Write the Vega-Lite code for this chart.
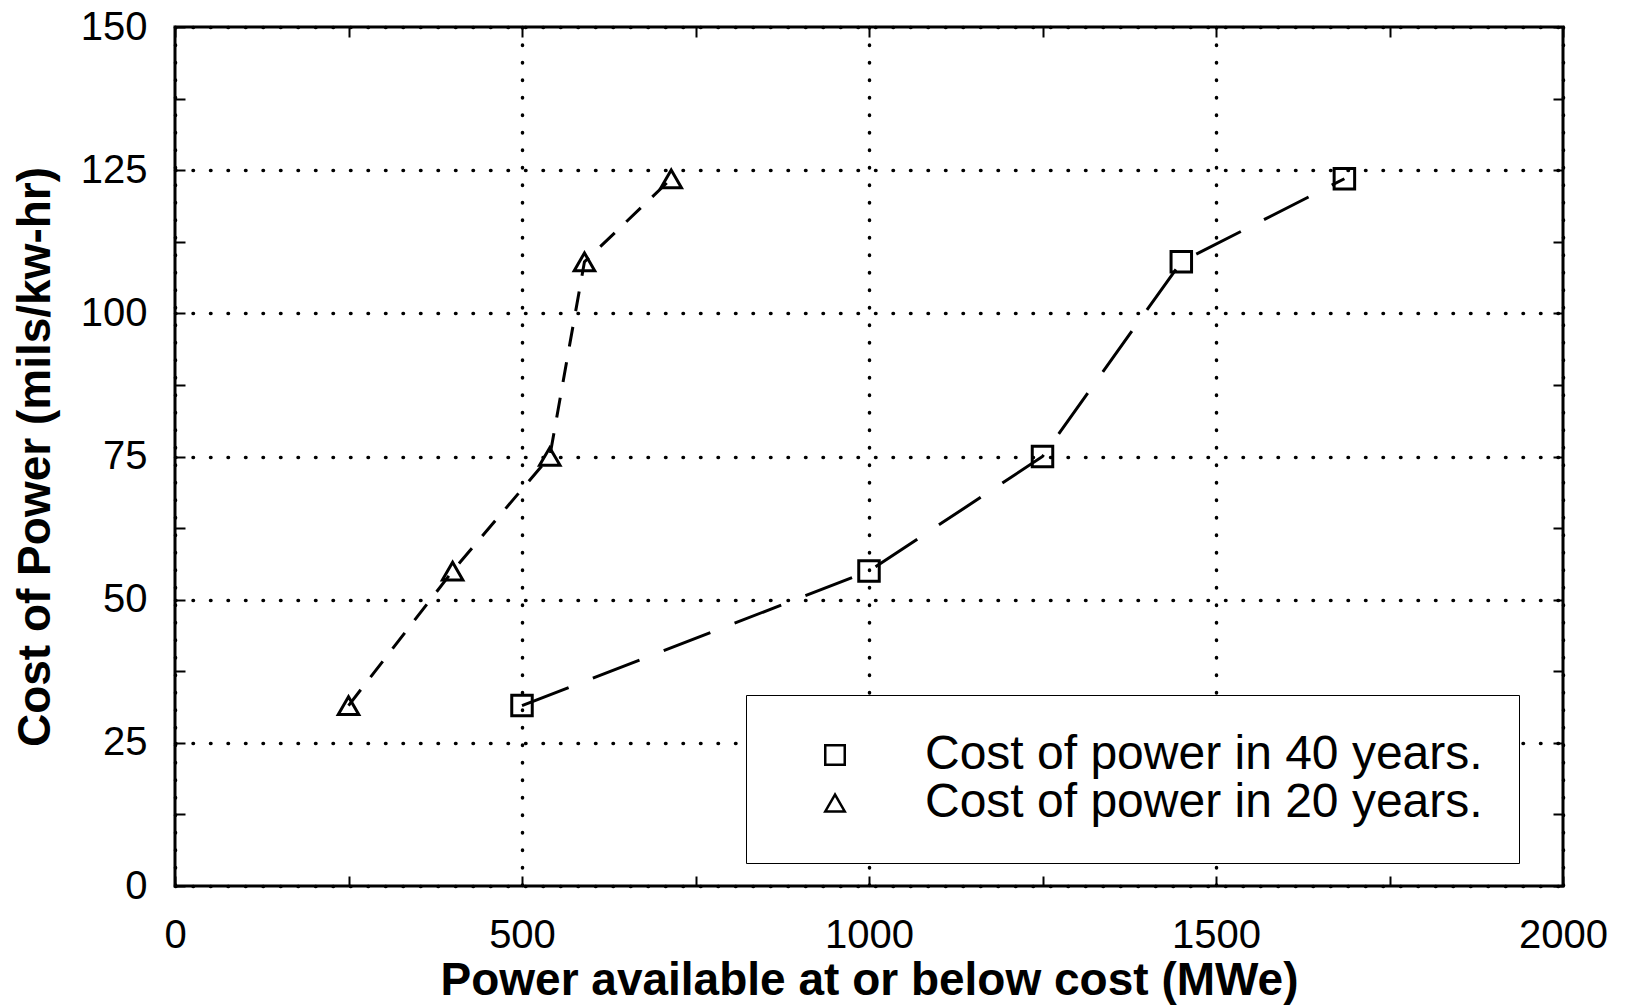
{
  "$schema": "https://vega.github.io/schema/vega-lite/v6.json",
  "autosize": "none",
  "padding": {"left": 175, "top": 27, "right": 62, "bottom": 119},
  "width": 1388,
  "height": 859,
  "background": "white",
  "config": {
    "view": {"stroke": "black", "strokeWidth": 3},
    "font": "Liberation Sans",
    "axis": {
      "domain": false,
      "tickColor": "black",
      "tickWidth": 2,
      "tickSize": -10,
      "labelColor": "black",
      "labelFont": "Liberation Sans",
      "labelFontSize": 40,
      "labelOverlap": false,
      "labelFlush": false,
      "titleColor": "black",
      "titleFont": "Liberation Sans",
      "titleFontSize": 46,
      "titleFontWeight": "bold",
      "gridColor": "black",
      "gridWidth": 3.5,
      "gridDash": [0.5, 17],
      "gridCap": "round"
    }
  },
  "data": {
    "values": [
      {"series": "Cost of power in 40 years.", "power": 500, "cost": 31.5},
      {"series": "Cost of power in 40 years.", "power": 1000, "cost": 55},
      {"series": "Cost of power in 40 years.", "power": 1250, "cost": 75},
      {"series": "Cost of power in 40 years.", "power": 1450, "cost": 109},
      {"series": "Cost of power in 40 years.", "power": 1685, "cost": 123.5},
      {"series": "Cost of power in 20 years.", "power": 250, "cost": 31.5},
      {"series": "Cost of power in 20 years.", "power": 400, "cost": 55},
      {"series": "Cost of power in 20 years.", "power": 540, "cost": 75},
      {"series": "Cost of power in 20 years.", "power": 590, "cost": 109},
      {"series": "Cost of power in 20 years.", "power": 715, "cost": 123.5}
    ]
  },
  "resolve": {"axis": {"x": "independent", "y": "independent"}},
  "layer": [
    {
      "mark": {"type": "line", "color": "black", "strokeWidth": 3},
      "encoding": {
        "x": {
          "field": "power", "type": "quantitative",
          "scale": {"domain": [0, 2000], "nice": false, "zero": false},
          "axis": {
            "orient": "bottom",
            "title": "Power available at or below cost (MWe)",
            "values": [0, 250, 500, 750, 1000, 1250, 1500, 1750, 2000],
            "labelExpr": "datum.value % 500 === 0 ? datum.label : ''",
            "format": "d",
            "labelPadding": 39,
            "labelBaseline": "top",
            "titlePadding": 3,
            "grid": true,
            "gridOpacity": {"condition": {"test": "datum.value % 500 !== 0", "value": 0}, "value": 1}
          }
        },
        "y": {
          "field": "cost", "type": "quantitative",
          "scale": {"domain": [0, 150], "nice": false, "zero": false},
          "axis": {
            "orient": "left",
            "title": "Cost of Power (mils/kw-hr)",
            "values": [0, 12.5, 25, 37.5, 50, 62.5, 75, 87.5, 100, 112.5, 125, 137.5, 150],
            "labelExpr": "datum.value % 25 === 0 ? datum.label : ''",
            "format": "d",
            "labelPadding": 38,
            "titlePadding": 21,
            "grid": true,
            "gridOpacity": {"condition": {"test": "datum.value % 25 !== 0", "value": 0}, "value": 1}
          }
        },
        "detail": {"field": "series"},
        "strokeDash": {
          "field": "series", "type": "nominal",
          "scale": {"domain": ["Cost of power in 20 years.", "Cost of power in 40 years."], "range": [[20, 16], [50, 26]]},
          "legend": null
        }
      }
    },
    {
      "mark": {"type": "point", "filled": false, "color": "black", "strokeWidth": 3, "size": 420, "opacity": 1},
      "encoding": {
        "x": {
          "field": "power", "type": "quantitative",
          "scale": {"domain": [0, 2000], "nice": false, "zero": false},
          "axis": {
            "orient": "top", "title": null, "labels": false, "grid": false,
            "values": [0, 250, 500, 750, 1000, 1250, 1500, 1750, 2000]
          }
        },
        "y": {
          "field": "cost", "type": "quantitative",
          "scale": {"domain": [0, 150], "nice": false, "zero": false},
          "axis": {
            "orient": "right", "title": null, "labels": false, "grid": false,
            "values": [0, 12.5, 25, 37.5, 50, 62.5, 75, 87.5, 100, 112.5, 125, 137.5, 150]
          }
        },
        "shape": {
          "field": "series", "type": "nominal",
          "scale": {"domain": ["Cost of power in 40 years.", "Cost of power in 20 years."], "range": ["square", "triangle-up"]},
          "legend": {
            "orient": "none",
            "legendX": 571,
            "legendY": 668,
            "title": null,
            "direction": "vertical",
            "strokeColor": "black",
            "fillColor": "white",
            "padding": 36,
            "symbolOffset": 29,
            "labelOffset": 66,
            "labelFont": "Liberation Sans",
            "labelFontSize": 48,
            "labelColor": "black",
            "labelLimit": 1000,
            "rowPadding": -4,
            "symbolSize": 380,
            "symbolStrokeColor": "black",
            "symbolStrokeWidth": 2.5,
            "symbolFillColor": "white",
            "encode": {"legend": {"update": {"strokeWidth": {"value": 2}}}}
          }
        }
      }
    }
  ]
}
